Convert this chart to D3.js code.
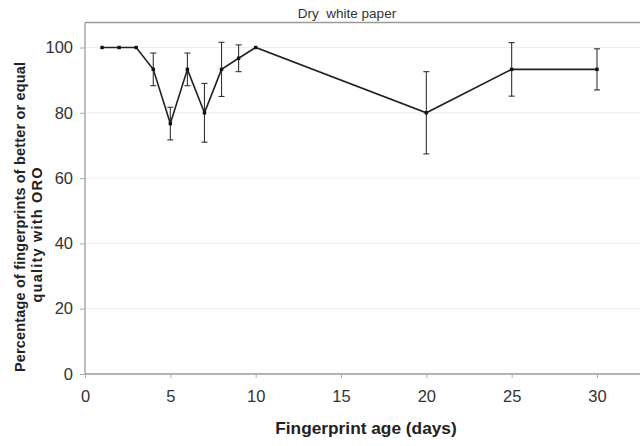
<!DOCTYPE html>
<html>
<head>
<meta charset="utf-8">
<script src="https://cdn.jsdelivr.net/npm/d3@7"></script>
<style>
  body { margin: 0; background: #fff; }
  svg { display: block; font-family: "Liberation Sans", Arial, sans-serif; }
</style>
</head>
<body>
<svg id="chart" width="640" height="446"></svg>
<script>
// data
const days = [1, 2, 3, 4, 5, 6, 7, 8, 9, 10, 20, 25, 30];
const pct = [100, 100, 100, 93.3, 76.7, 93.3, 80, 93.3, 96.7, 100, 80, 93.3, 93.3];
const err = [0, 0, 0, 5, 5, 5, 9, 8.3, 4.1, 0, 12.6, 8.2, 6.3];
const xTicks = [0, 5, 10, 15, 20, 25, 30];
const yTicks = [0, 20, 40, 60, 80, 100];

const svg = d3.select("#chart");
const plotLeft = 85, plotRight = 640, plotTop = 22.5;

const x = d3.scaleLinear().domain([0, 30]).range([85, 597]);
const y = d3.scaleLinear().domain([0, 100]).range([374, 47.5]);

const pts = days.map((d, i) => ({ d: d, v: pct[i], e: err[i] }));

// grid lines (very faint)
svg.append("g").selectAll("line").data(yTicks.filter(t => t > 0)).join("line")
    .attr("x1", plotLeft + 1).attr("x2", plotRight)
    .attr("y1", d => y(d)).attr("y2", d => y(d))
    .attr("stroke", "#eeeeee").attr("stroke-width", 1);

// frame top
svg.append("line")
    .attr("x1", plotLeft).attr("x2", plotRight).attr("y1", plotTop).attr("y2", plotTop)
    .attr("stroke", "#9a9a9a").attr("stroke-width", 1.3);

// y axis
const yAxis = svg.append("g")
    .attr("transform", "translate(" + plotLeft + ",0)")
    .call(d3.axisLeft(y).tickValues(yTicks).tickSize(5).tickPadding(7));
yAxis.select(".domain").attr("d", "M0," + plotTop + "V" + y(0)).attr("stroke", "#9a9a9a").attr("stroke-width", 1.3);
yAxis.selectAll(".tick line").attr("stroke", "#aaa");
yAxis.selectAll(".tick text").attr("font-size", 16.5).attr("fill", "#333");

// x axis
const xAxis = svg.append("g")
    .attr("transform", "translate(0," + y(0) + ")")
    .call(d3.axisBottom(x).tickValues(xTicks).tickSize(4).tickPadding(12));
xAxis.select(".domain").attr("d", "M" + plotLeft + ",0H" + plotRight).attr("stroke", "#9a9a9a").attr("stroke-width", 1.3);
xAxis.selectAll(".tick line").attr("stroke", "#aaa");
xAxis.selectAll(".tick text").attr("font-size", 16.5).attr("fill", "#333");

// error bars
const eb = svg.append("g").attr("stroke", "#333").attr("stroke-width", 1.1);
pts.filter(p => p.e > 0).forEach(p => {
    const cx = x(p.d);
    eb.append("line").attr("x1", cx).attr("x2", cx).attr("y1", y(p.v + p.e)).attr("y2", y(p.v - p.e));
    eb.append("line").attr("x1", cx - 3).attr("x2", cx + 3).attr("y1", y(p.v + p.e)).attr("y2", y(p.v + p.e));
    eb.append("line").attr("x1", cx - 3).attr("x2", cx + 3).attr("y1", y(p.v - p.e)).attr("y2", y(p.v - p.e));
});

// line
svg.append("path")
    .datum(pts)
    .attr("fill", "none")
    .attr("stroke", "#222")
    .attr("stroke-width", 1.6)
    .attr("d", d3.line().x(p => x(p.d)).y(p => y(p.v)));

// markers
svg.append("g").selectAll("rect").data(pts).join("rect")
    .attr("x", p => x(p.d) - 1.7).attr("y", p => y(p.v) - 1.7)
    .attr("width", 3.4).attr("height", 3.4)
    .attr("fill", "#111");

// title
svg.append("text")
    .attr("x", 347).attr("y", 17.5)
    .attr("text-anchor", "middle")
    .attr("font-size", 13.5).attr("fill", "#333")
    .attr("xml:space", "preserve")
    .text("Dry  white paper");

// x title
svg.append("text")
    .attr("x", 366).attr("y", 434)
    .attr("text-anchor", "middle")
    .attr("font-size", 17.3).attr("font-weight", "bold").attr("fill", "#222")
    .text("Fingerprint age (days)");

// y title, two lines
svg.append("text")
    .attr("transform", "translate(25,217) rotate(-90)")
    .attr("text-anchor", "middle")
    .attr("font-size", 14.5).attr("font-weight", "bold").attr("fill", "#222")
    .attr("textLength", 310).attr("lengthAdjust", "spacing")
    .text("Percentage of fingerprints of better or equal");
svg.append("text")
    .attr("transform", "translate(42,235) rotate(-90)")
    .attr("text-anchor", "middle")
    .attr("font-size", 14.5).attr("font-weight", "bold").attr("fill", "#222")
    .attr("textLength", 135).attr("lengthAdjust", "spacing")
    .text("quality with ORO");
</script>
</body>
</html>
